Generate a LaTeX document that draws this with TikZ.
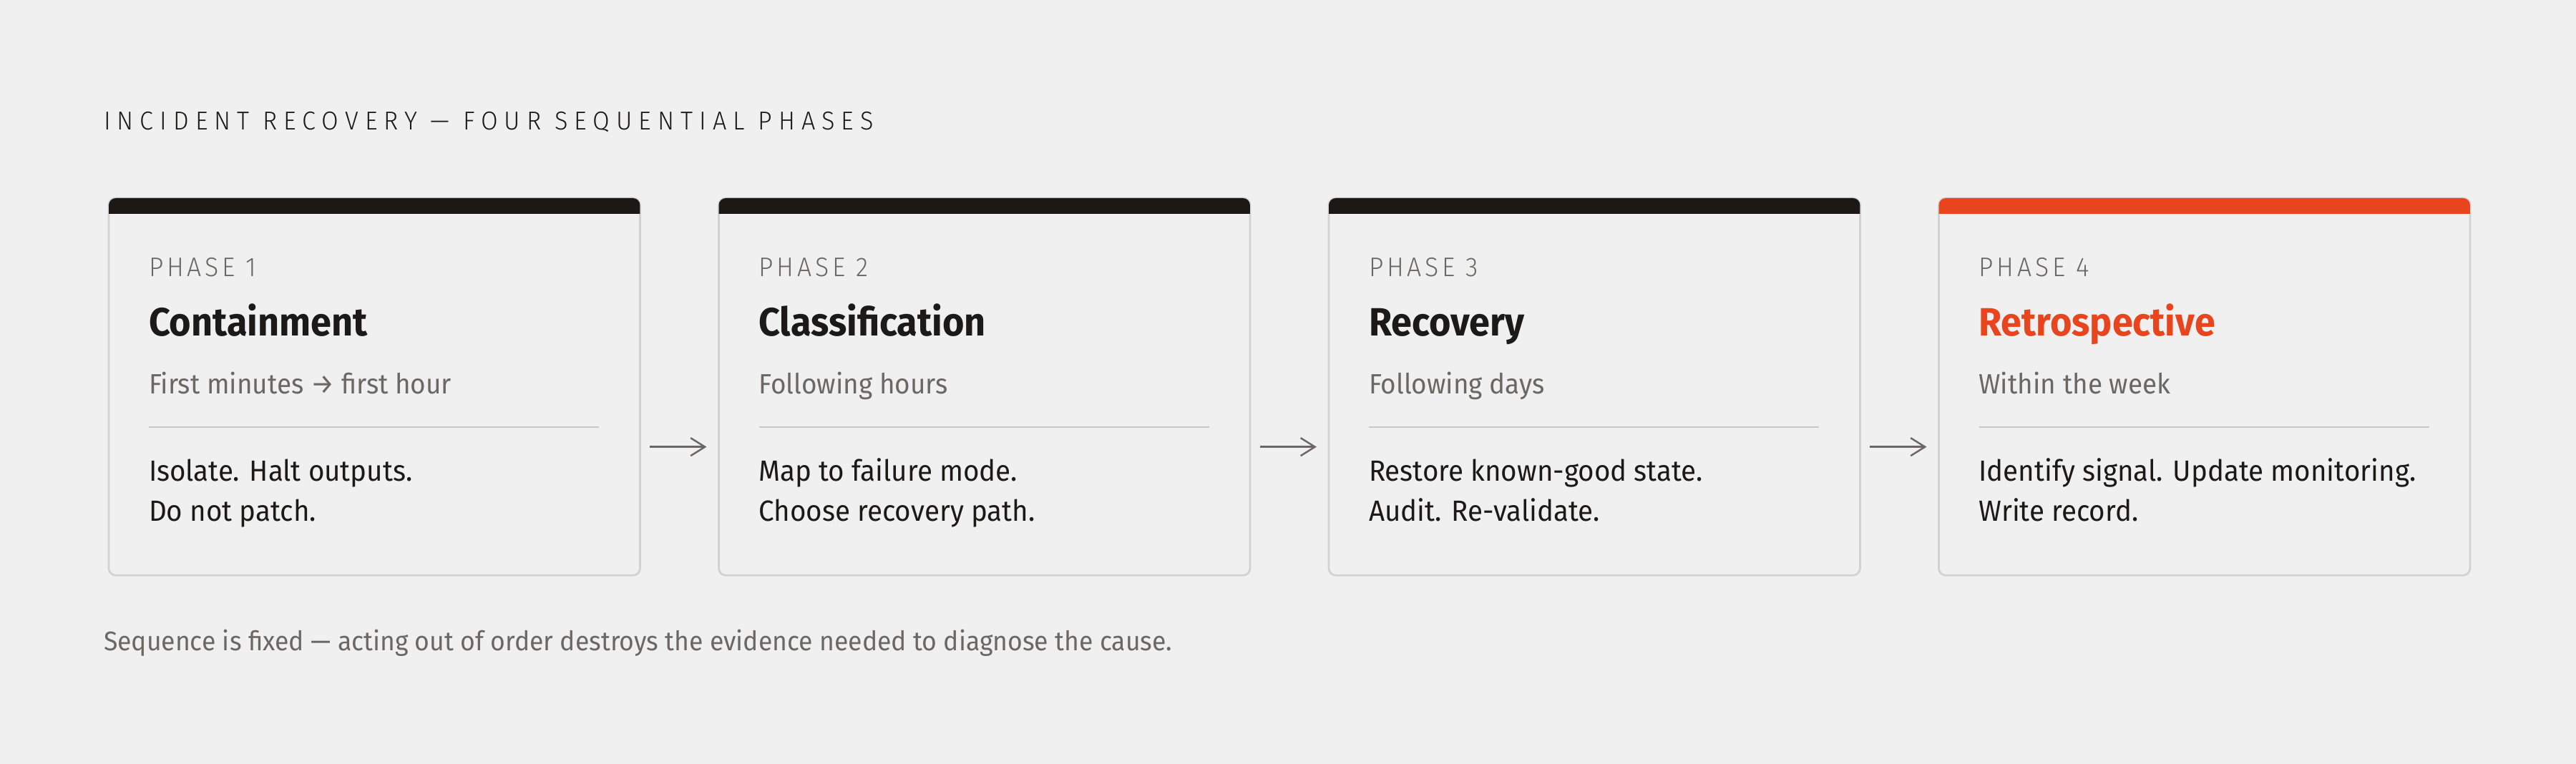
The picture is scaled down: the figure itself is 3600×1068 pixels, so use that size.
\documentclass[tikz,border=0pt]{standalone}
\usepackage{fontspec}
\setmainfont{Fira Sans}[FakeStretch=0.945]
\newfontfamily\lightfont{Fira Sans Light}[FakeStretch=0.945]
\usepackage{tikz}
\usetikzlibrary{arrows.meta,positioning,calc}
\definecolor{bgc}{HTML}{F0F0F0}
\definecolor{edgec}{HTML}{D2D2D2}
\definecolor{rulec}{HTML}{C8C8C8}
\definecolor{barc}{HTML}{1C1815}
\definecolor{hotc}{HTML}{E8441E}
\definecolor{inkc}{HTML}{1C1A18}
\definecolor{greyc}{HTML}{6B6764}
\tikzstyle{card}=[draw=edgec, line width=0.8pt, rounded corners=2.8pt, minimum width=7.42cm, minimum height=5.27cm, inner sep=0pt, outer sep=0pt]

\begin{document}
\begin{tikzpicture}[x=0.01cm,y=-0.01cm,
  txt/.style={anchor=base west, inner sep=0pt, outer sep=0pt},
  head/.style={txt, text=inkc, font=\lightfont\addfontfeatures{LetterSpace=25}\fontsize{10.3}{12}\selectfont},
  phase/.style={txt, text=greyc, font=\lightfont\addfontfeatures{LetterSpace=13}\fontsize{10.7}{12}\selectfont},
  ttl/.style={txt, text=inkc, font=\bfseries\fontsize{15.7}{18}\selectfont},
  sub/.style={txt, text=greyc, font=\fontsize{11.1}{13}\selectfont},
  body/.style={txt, text=inkc, font=\fontsize{11.6}{14}\selectfont},
  note/.style={txt, text=greyc, font=\fontsize{10.7}{13}\selectfont},
  rule/.style={draw=rulec, line width=0.7pt},
  flow/.style={draw=greyc, line width=0.7pt, -{Straight Barb[length=0.2cm,width=0.25cm]}, shorten <=0.14cm, shorten >=0.17cm}]
\fill[bgc] (0,0) rectangle (3600,1068);
\useasboundingbox (0,0) rectangle (3600,1068);

\node (top) at (145,182)[head] {INCIDENT RECOVERY — FOUR SEQUENTIAL PHASES};

\node (c1) at (152,277)[card, anchor=north west] {};
\node (c2) [card, right=1.1cm of c1] {};
\node (c3) [card, right=1.1cm of c2] {};
\node (c4) [card, right=1.1cm of c3] {};

% coloured bars on top of the cards
\fill[barc] ($(c1.north west)+(0,22)$) [rounded corners=2.8pt] -- (c1.north west) -- (c1.north east) [sharp corners] -- ($(c1.north east)+(0,22)$) -- cycle;
\fill[barc] ($(c2.north west)+(0,22)$) [rounded corners=2.8pt] -- (c2.north west) -- (c2.north east) [sharp corners] -- ($(c2.north east)+(0,22)$) -- cycle;
\fill[barc] ($(c3.north west)+(0,22)$) [rounded corners=2.8pt] -- (c3.north west) -- (c3.north east) [sharp corners] -- ($(c3.north east)+(0,22)$) -- cycle;
\fill[hotc] ($(c4.north west)+(0,22)$) [rounded corners=2.8pt] -- (c4.north west) -- (c4.north east) [sharp corners] -- ($(c4.north east)+(0,22)$) -- cycle;

\node (p1) at ($(c1.north west)+(56,110)$)[phase] {PHASE 1};
\node (t1) at ($(c1.north west)+(56,193)$)[ttl] {Containment};
\node (s1) at ($(c1.north west)+(56,274)$)[sub] {First minutes → first hour};
\draw[rule] ($(c1.north west)+(56,320)$) -- ($(c1.north east)+(-57,320)$);
\node (a1) at ($(c1.north west)+(56,396)$)[body] {Isolate. Halt outputs.};
\node (b1) at ($(c1.north west)+(56,452)$)[body] {Do not patch.};

\node (p2) at ($(c2.north west)+(56,110)$)[phase] {PHASE 2};
\node (t2) at ($(c2.north west)+(56,193)$)[ttl] {Classification};
\node (s2) at ($(c2.north west)+(56,274)$)[sub] {Following hours};
\draw[rule] ($(c2.north west)+(56,320)$) -- ($(c2.north east)+(-57,320)$);
\node (a2) at ($(c2.north west)+(56,396)$)[body] {Map to failure mode.};
\node (b2) at ($(c2.north west)+(56,452)$)[body] {Choose recovery path.};

\node (p3) at ($(c3.north west)+(56,110)$)[phase] {PHASE 3};
\node (t3) at ($(c3.north west)+(56,193)$)[ttl] {Recovery};
\node (s3) at ($(c3.north west)+(56,274)$)[sub] {Following days};
\draw[rule] ($(c3.north west)+(56,320)$) -- ($(c3.north east)+(-57,320)$);
\node (a3) at ($(c3.north west)+(56,396)$)[body] {Restore known-good state.};
\node (b3) at ($(c3.north west)+(56,452)$)[body] {Audit. Re-validate.};

\node (p4) at ($(c4.north west)+(56,110)$)[phase] {PHASE 4};
\node (t4) at ($(c4.north west)+(56,193)$)[ttl, text=hotc] {Retrospective};
\node (s4) at ($(c4.north west)+(56,274)$)[sub] {Within the week};
\draw[rule] ($(c4.north west)+(56,320)$) -- ($(c4.north east)+(-57,320)$);
\node (a4) at ($(c4.north west)+(56,396)$)[body] {Identify signal. Update monitoring.};
\node (b4) at ($(c4.north west)+(56,452)$)[body] {Write record.};

\draw[flow] ([yshift=-0.84cm]c1.east) -- ([yshift=-0.84cm]c2.west);
\draw[flow] ([yshift=-0.84cm]c2.east) -- ([yshift=-0.84cm]c3.west);
\draw[flow] ([yshift=-0.84cm]c3.east) -- ([yshift=-0.84cm]c4.west);

\node (foot) at (145,910)[note] {Sequence is fixed — acting out of order destroys the evidence needed to diagnose the cause.};
\end{tikzpicture}
\end{document}
